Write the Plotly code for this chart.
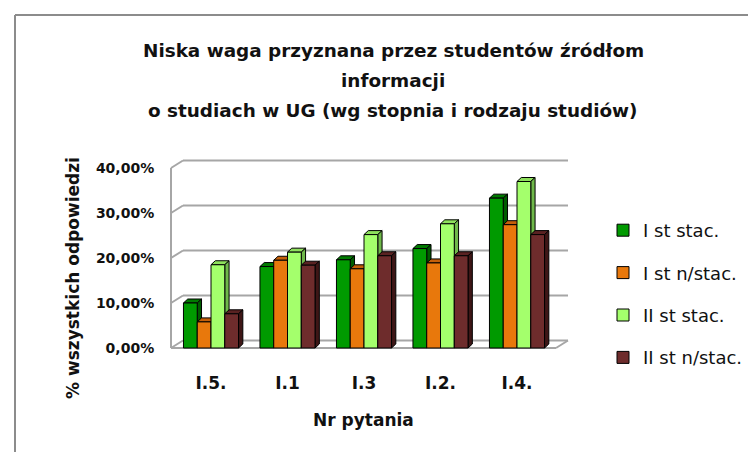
import plotly.graph_objects as go

# ---------------- data ----------------
categories = ["I.5.", "I.1", "I.3", "I.2.", "I.4."]
series_names = ["I st stac.", "I st n/stac.", "II st stac.", "II st n/stac."]
i_st_stac = [0.100, 0.181, 0.196, 0.221, 0.333]
i_st_nstac = [0.058, 0.195, 0.176, 0.189, 0.274]
ii_st_stac = [0.185, 0.213, 0.252, 0.276, 0.370]
ii_st_nstac = [0.076, 0.184, 0.205, 0.205, 0.252]
y_tick_vals = [0.0, 0.1, 0.2, 0.3, 0.4]
y_tick_text = ["0,00%", "10,00%", "20,00%", "30,00%", "40,00%"]
title_lines = ["Niska waga przyznana przez studentów źródłom", "informacji",
               "o studiach w UG (wg stopnia i rodzaju studiów)"]
x_title = "Nr pytania"
y_title = "% wszystkich odpowiedzi"

values = [i_st_stac, i_st_nstac, ii_st_stac, ii_st_nstac]
front_colors = ["#009a00", "#e8780c", "#a4ff6c", "#6e2c2c"]
top_colors = ["#007a00", "#c4600a", "#8ee05c", "#5a2222"]
side_colors = ["#005c00", "#a44e08", "#6fb84a", "#3e1616"]

FONT = "'DejaVu Sans', sans-serif"
TXT = "#111111"

# ---------------- geometry (pixels) ----------------
W, H = 756, 452
PL, PR, PT, PB = 161, 562, 150, 344      # plot area
CAT0 = 203.0                              # pixel centre of first category
PXX = 76.5                                # px per category
Y0 = 340.0                                # pixel of value 0 (front)
PXY = 450.0                               # px per 1.0 of value

x_min = (PL - CAT0) / PXX
x_max = (PR - CAT0) / PXX
y_min = -(PB - Y0) / PXY
y_max = (Y0 - PT) / PXY

def px_x(px):
    return (px - CAT0) / PXX

def pfx(px):
    return (px - PL) / (PR - PL)

def pfy(py):
    return (PB - py) / (PB - PT)

# box (walls) in data units
xL = px_x(163)
xR = px_x(548)
bdx = 12 / PXX
bdy = 7.5 / PXY
# bar depth in data units
ddx = 4.3 / PXX
ddy = 4.0 / PXY

bargap = 0.28
nser = len(values)
bw = (1 - bargap) / nser

shapes = []
grid_col = "#a6a6a6"
for v in y_tick_vals:
    shapes.append(dict(type="line", xref="x", yref="y", x0=xL + bdx, x1=xR + bdx,
                       y0=v + bdy, y1=v + bdy, line=dict(color=grid_col, width=2), layer="below"))
    shapes.append(dict(type="line", xref="x", yref="y", x0=xL, x1=xL + bdx,
                       y0=v, y1=v + bdy, line=dict(color=grid_col, width=2), layer="below"))
shapes.append(dict(type="line", xref="x", yref="y", x0=xL, x1=xL, y0=0, y1=y_tick_vals[-1],
                   line=dict(color=grid_col, width=2), layer="below"))
shapes.append(dict(type="line", xref="x", yref="y", x0=xL, x1=xR, y0=0, y1=0,
                   line=dict(color=grid_col, width=2), layer="below"))
shapes.append(dict(type="line", xref="x", yref="y", x0=xR, x1=xR + bdx, y0=0, y1=bdy,
                   line=dict(color=grid_col, width=2), layer="below"))

# 3D faces of bars
for i in range(len(categories)):
    for k in range(nser):
        v = values[k][i]
        x0 = i - (1 - bargap) / 2 + k * bw
        x1 = x0 + bw
        top = f"M {x0} {v} L {x0 + ddx} {v + ddy} L {x1 + ddx} {v + ddy} L {x1} {v} Z"
        side = f"M {x1} 0 L {x1} {v} L {x1 + ddx} {v + ddy} L {x1 + ddx} {ddy} Z"
        shapes.append(dict(type="path", xref="x", yref="y", path=top, fillcolor=top_colors[k],
                           line=dict(color="black", width=1), layer="below"))
        shapes.append(dict(type="path", xref="x", yref="y", path=side, fillcolor=side_colors[k],
                           line=dict(color="black", width=1), layer="below"))

# outer frame (top and left border)
shapes.append(dict(type="line", xref="paper", yref="paper", x0=pfx(7), x1=pfx(757),
                   y0=pfy(7), y1=pfy(7), line=dict(color="#8c8c8c", width=2)))
shapes.append(dict(type="line", xref="paper", yref="paper", x0=pfx(7), x1=pfx(7),
                   y0=pfy(7), y1=pfy(453), line=dict(color="#8c8c8c", width=2)))

fig = go.Figure()
xs = list(range(len(categories)))
for k in range(nser):
    fig.add_trace(go.Bar(
        x=xs, y=values[k], name=series_names[k], legendgroup=series_names[k],
        marker=dict(color=front_colors[k], line=dict(color="black", width=1)),
    ))

title_font = dict(family=FONT, size=18.4, color=TXT, weight="bold")
annotations = []
for j, line in enumerate(title_lines):
    annotations.append(dict(text=line, xref="paper", yref="paper", x=pfx(385), y=pfy(43 + 29.5 * j),
                            xanchor="center", yanchor="middle", showarrow=False, font=title_font))
annotations += [
    dict(text=y_title, xref="paper", yref="paper", x=pfx(65), y=pfy(270), textangle=-90,
         xanchor="center", yanchor="middle",
         showarrow=False, font=dict(family=FONT, size=17, color=TXT, weight="bold")),
    dict(text=x_title, xref="paper", yref="paper", x=pfx(355), y=pfy(412),
         xanchor="center", yanchor="middle",
         showarrow=False, font=dict(family=FONT, size=17, color=TXT, weight="bold")),
]

fig.update_layout(
    width=W, height=H, autosize=False,
    margin=dict(l=PL, r=W - PR, t=PT, b=H - PB, pad=0),
    paper_bgcolor="white", plot_bgcolor="rgba(0,0,0,0)",
    barmode="group", bargap=bargap, bargroupgap=0,
    xaxis=dict(range=[x_min, x_max], tickvals=xs, ticktext=categories, showgrid=False,
               zeroline=False, showline=False, ticks="outside", ticklen=16,
               tickcolor="rgba(0,0,0,0)",
               tickfont=dict(family=FONT, size=17, color=TXT, weight="bold")),
    yaxis=dict(range=[y_min, y_max], tickvals=y_tick_vals, ticktext=y_tick_text, showgrid=False,
               zeroline=False, showline=False, ticks="outside", ticklen=11,
               tickcolor="rgba(0,0,0,0)",
               tickfont=dict(family=FONT, size=14, color=TXT, weight="bold")),
    legend=dict(x=pfx(595), y=pfy(204), xanchor="left", yanchor="top",
                font=dict(family=FONT, size=18, color=TXT), tracegroupgap=16,
                bgcolor="rgba(0,0,0,0)"),
    shapes=shapes, annotations=annotations, showlegend=True,
)

fig.write_html("out.html")
